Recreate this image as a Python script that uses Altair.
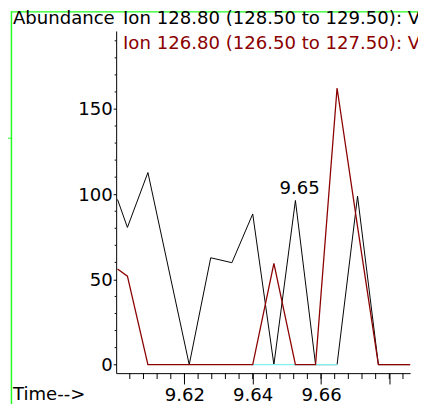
import altair as alt
import pandas as pd

# ---- data ----
times = [9.6004, 9.6033, 9.6093, 9.6214, 9.6277, 9.6339, 9.6400, 9.6462,
         9.6525, 9.6584, 9.6647, 9.6707, 9.6768, 9.6861]
ion128 = [96.9, 80.5, 112.7, 0, 62.7, 59.8, 88.4, 0, 96.3, 0, 0, 98.8, 0, 0]
ion126 = [56.1, 51.9, 0, 0, 0, 0, 0, 59.4, 0, 0, 162.3, 81.0, 0, 0]
baseline_t = [9.6400, 9.6647]
baseline_v = [0, 0]
peak_t = [9.6525]
peak_v = [96.3]
peak_label = ["9.65"]
x_major = [9.62, 9.64, 9.66, 9.68]
x_minor = [9.604, 9.608, 9.612, 9.616, 9.620, 9.624, 9.628, 9.632, 9.636,
           9.640, 9.644, 9.648, 9.652, 9.656, 9.660, 9.664, 9.668, 9.672,
           9.676, 9.680, 9.684]
y_major = [0, 50, 100, 150]
y_minor = [10, 20, 30, 40, 60, 70, 80, 90, 110, 120, 130, 140, 160, 170, 180, 190]
y_title = "Abundance"
x_title = "Time-->"
legend_128 = "Ion 128.80 (128.50 to 129.50): V"
legend_126 = "Ion 126.80 (126.50 to 127.50): V"

FONT = "DejaVu Sans"
FS = 18.4
RED = "#8b0000"
CYAN = "#80f0f0"
GREEN = "#22ff22"

W, H = 299, 348

xs = alt.Scale(domain=[9.6, 9.6861], nice=False, zero=False)
ys = alt.Scale(domain=[-5, 195.75], nice=False, zero=False)

df128 = pd.DataFrame({"t": times, "v": ion128})
df126 = pd.DataFrame({"t": times, "v": ion126})
dfbase = pd.DataFrame({"t": baseline_t, "v": baseline_v})
dfpeak = pd.DataFrame({"t": peak_t, "v": peak_v, "label": peak_label})
dfxminor = pd.DataFrame({"t": x_minor})
dfyminor = pd.DataFrame({"v": y_minor})

x_axis = alt.Axis(values=x_major, title=None, grid=False,
                  labelExpr="datum.value > 9.67 ? '' : format(datum.value, '.2f')",
                  tickSize=11, labelPadding=2.3, labelFont=FONT, labelFontSize=FS,
                  labelColor="black", tickColor="black", domainColor="black",
                  labelFlush=False, labelOverlap=False)
y_axis = alt.Axis(values=y_major, title=None, grid=False, format="d",
                  tickSize=3, labelPadding=1, labelFont=FONT, labelFontSize=FS,
                  labelColor="black", tickColor="black", domainColor="black",
                  labelOverlap=False, labelFlush=False)

X = alt.X("t:Q", scale=xs, axis=x_axis)
Y = alt.Y("v:Q", scale=ys, axis=y_axis)

black = alt.Chart(df128).mark_line(color="black", strokeWidth=1).encode(x=X, y=Y)
base = alt.Chart(dfbase).mark_line(color=CYAN, strokeWidth=1.5).encode(x=X, y=Y)
red = alt.Chart(df126).mark_line(color=RED, strokeWidth=1.3).encode(x=X, y=Y)
peak = alt.Chart(dfpeak).mark_text(font=FONT, fontSize=FS, color="black",
                                   align="center", baseline="alphabetic",
                                   dx=4.4, dy=-7).encode(x=X, y=Y, text="label:N")
xminor = alt.Chart(dfxminor).mark_rule(color="black", strokeWidth=1).encode(
    x=X, y=alt.value(H), y2=alt.value(H + 6))
yminor = alt.Chart(dfyminor).mark_rule(color="black", strokeWidth=1).encode(
    y=Y, x=alt.value(-1.5), x2=alt.value(0))

def label(txt, x, y, color="black"):
    return alt.Chart().mark_text(text=txt, font=FONT, fontSize=FS, color=color,
                                 align="left", baseline="alphabetic").encode(
        x=alt.value(x), y=alt.value(y))

t_abund = label(y_title, -105, -7.3)
t_leg1 = label(legend_128, 7, -7.3)
t_leg2 = label(legend_126, 7, 18, RED)
t_time = label(x_title, -105, 375.6)

g_left = alt.Chart().mark_rule(color=GREEN, strokeWidth=1.5).encode(
    x=alt.value(-106.5), y=alt.value(-20), y2=alt.value(384))
g_top = alt.Chart().mark_rule(color=GREEN, strokeWidth=1.2).encode(
    x=alt.value(-106.5), x2=alt.value(312), y=alt.value(-19.4))
g_short = alt.Chart().mark_rule(color=GREEN, strokeWidth=1).encode(
    x=alt.value(-112), x2=alt.value(-106.5), y=alt.value(109))

chart = alt.layer(
    black, base, red, xminor, yminor, peak,
    g_left, g_top, g_short,
    t_abund, t_leg1, t_leg2, t_time,
).properties(
    width=W, height=H,
    autosize=alt.AutoSizeParams(type="none"),
    padding={"left": 110, "top": 20, "right": 8, "bottom": 28},
    background="white",
).configure_view(stroke=None)

chart.save("out.html", embed_options={"renderer": "svg", "actions": False})
